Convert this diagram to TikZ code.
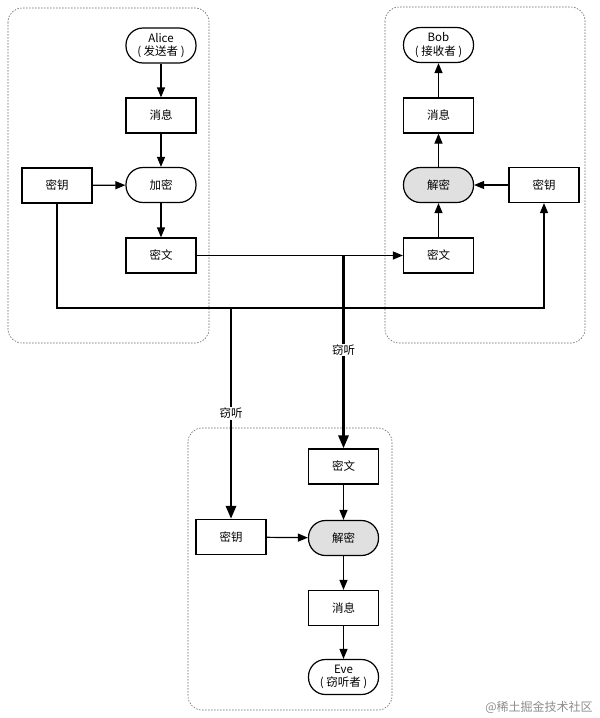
\documentclass[tikz,border=0pt]{standalone}
\usepackage{fontspec}
\setmainfont{Noto Sans CJK SC}
\usetikzlibrary{arrows.meta}
\begin{document}
\begin{tikzpicture}[x=1pt,y=-1pt, font=\fontsize{11.5}{13.5}\selectfont,
  box/.style={draw, line width=1.2pt, minimum width=70pt, minimum height=35pt, inner sep=0pt, align=center},
  pill/.style={box, rounded corners=17pt},
  grp/.style={draw=black!60, dash pattern=on 1.5pt off 1.5pt, line width=0.6pt, rounded corners=14pt},
  arr/.style={-{Triangle[length=10pt,width=8pt]}, line width=1.2pt},
  tap/.style={line width=2.8pt, -{Triangle[length=13pt,width=10pt]}},
  lbl/.style={fill=white, inner sep=1pt},
]
\useasboundingbox (0,0) rectangle (600,718);
% groups
\draw[grp] (8,8) rectangle (209,343);
\draw[grp] (385,7) rectangle (585,343);
\draw[grp] (188,428) rectangle (392,710);
% Alice side
\node[pill] (alice) at (161,45.5) {Alice\\( 发送者 )};
\node[box] (amsg) at (161,115.5) {消息};
\node[pill] (enc) at (161,185) {加密};
\node[box] (akey) at (57,185.5) {密钥};
\node[box] (actext) at (161,255.5) {密文};
% Bob side
\node[pill] (bob) at (438.5,45) {Bob\\( 接收者 )};
\node[box] (bmsg) at (438.5,115.5) {消息};
\node[pill, fill=black!12] (bdec) at (438.5,185) {解密};
\node[box] (bkey) at (544,185) {密钥};
\node[box] (bctext) at (438.5,255.5) {密文};
% Eve side
\node[box] (ectext) at (343.5,466.5) {密文};
\node[box] (ekey) at (231,537) {密钥};
\node[pill, fill=black!12] (edec) at (343.5,538) {解密};
\node[box] (emsg) at (343.5,608) {消息};
\node[pill] (eve) at (343.5,677) {Eve\\( 窃听者 )};
% Alice arrows
\draw[arr] (alice) -- (amsg);
\draw[arr] (amsg) -- (enc);
\draw[arr] (akey) -- (enc);
\draw[arr] (enc) -- (actext);
% Bob arrows
\draw[arr] (bctext) -- (bdec);
\draw[arr] (bdec) -- (bmsg);
\draw[arr] (bmsg) -- (bob);
\draw[arr] (bkey) -- (bdec);
% channels
\draw[arr] (actext) -- (bctext);
\coordinate (kl) at (57,308);
\coordinate (kr) at (544,308);
\draw[arr] (akey.south) -- (kl) -- (kr) -- (bkey.south);
\coordinate (tc) at (343.5,255.5);
\coordinate (tk) at (231,308);
\draw[tap] (tc) -- node[lbl, pos=0.49] {窃听} (ectext);
\draw[tap] (tk) -- node[lbl, pos=0.5] {窃听} (ekey);
% Eve arrows
\draw[arr] (ectext) -- (edec);
\draw[arr] (ekey) -- (edec);
\draw[arr] (edec) -- (emsg);
\draw[arr] (emsg) -- (eve);
% watermark
\node[text=black!45, font=\fontsize{12}{14}\selectfont] (wm) at (539,707) {@稀土掘金技术社区};
\end{tikzpicture}
\end{document}
